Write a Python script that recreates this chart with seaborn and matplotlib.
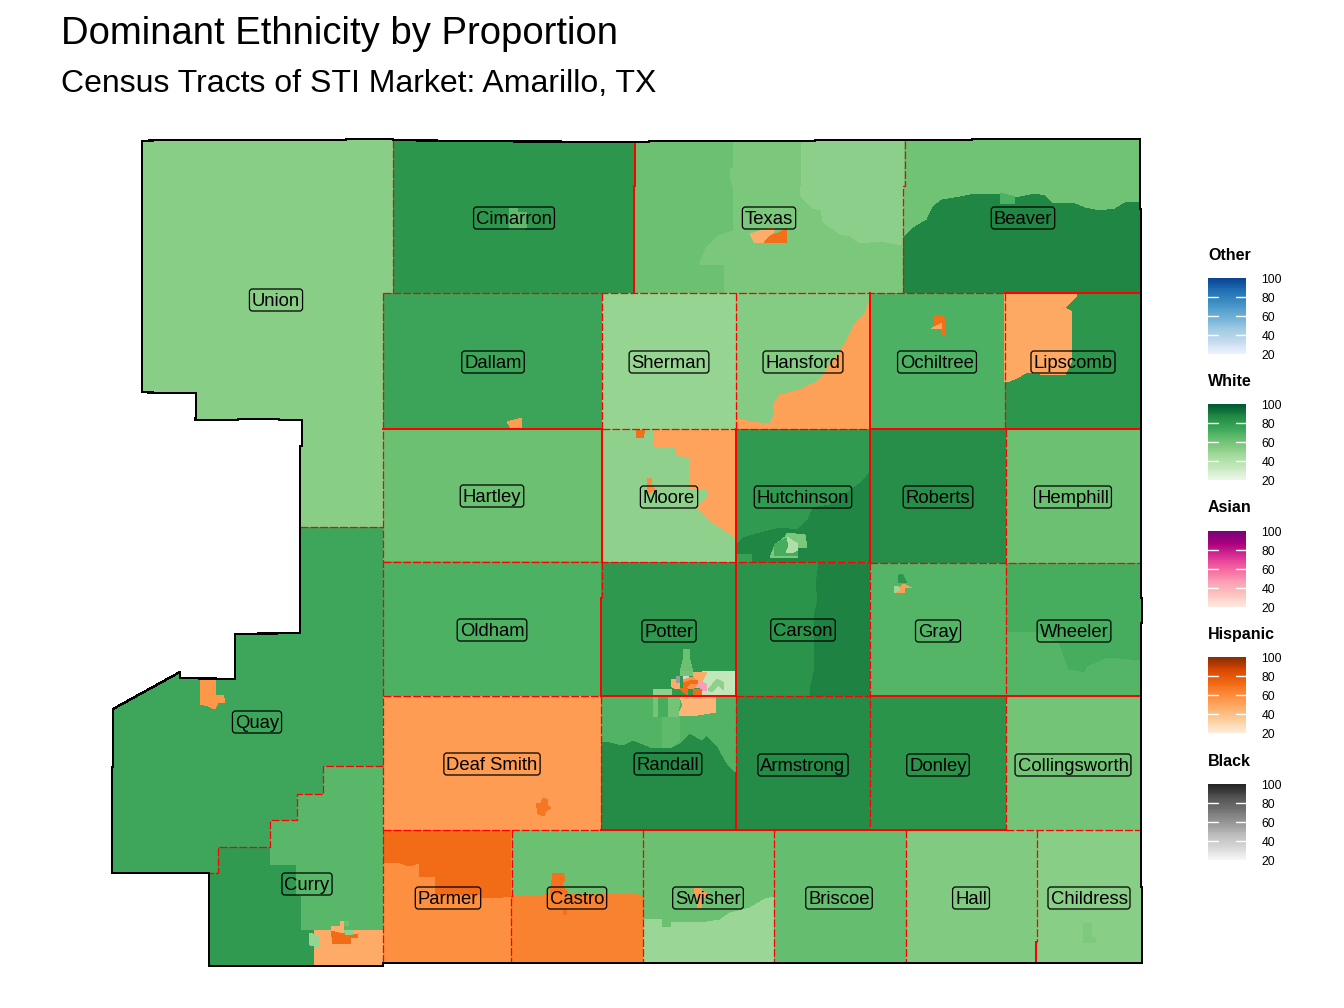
import numpy as np
import matplotlib
matplotlib.use('Agg')
import matplotlib.pyplot as plt
from matplotlib.patches import FancyBboxPatch
import seaborn as sns

# --- Scales ---
legend_order = ['Other', 'White', 'Asian', 'Hispanic', 'Black']
legend_ticks = [100, 80, 60, 40, 20]
scale_colors = {
    'Other': ['#EFF3FF', '#C6DBEF', '#9ECAE1', '#6BAED6', '#4292C6', '#2171B5', '#084594'],
    'White': ['#EDF8E9', '#C7E9C0', '#A1D99B', '#74C476', '#41AB5D', '#238B45', '#005A32'],
    'Asian': ['#FEEBE2', '#FCC5C0', '#FA9FB5', '#F768A1', '#DD3497', '#AE017E', '#7A0177'],
    'Hispanic': ['#FEEDDE', '#FDD0A2', '#FDAE6B', '#FD8D3C', '#F16913', '#D94801', '#8C2D04'],
    'Black': ['#F7F7F7', '#D9D9D9', '#BDBDBD', '#969696', '#737373', '#525252', '#252525'],
}

# --- Labels ---
county_names = ['Cimarron', 'Texas', 'Beaver', 'Union', 'Dallam', 'Sherman', 'Hansford', 'Ochiltree',
                'Lipscomb', 'Hartley', 'Moore', 'Hutchinson', 'Roberts', 'Hemphill', 'Oldham', 'Potter',
                'Carson', 'Gray', 'Wheeler', 'Quay', 'Deaf Smith', 'Randall', 'Armstrong', 'Donley',
                'Collingsworth', 'Curry', 'Parmer', 'Castro', 'Swisher', 'Briscoe', 'Hall', 'Childress']
county_x = [514, 769, 1023, 276, 493, 669, 803, 937, 1073, 492, 669, 803, 938, 1073, 492, 669,
            803, 938, 1074, 257, 492, 668, 803, 938, 1073, 307, 448, 577, 708, 839, 971, 1089]
county_y = [218, 218, 218, 300, 362, 362, 362, 362, 362, 496, 497, 497, 497, 497, 630, 631,
            630, 631, 631, 722, 764, 764, 765, 765, 765, 884, 898, 898, 898, 898, 898, 898]

# --- Tracts: one ethnicity, one percent, one outline each, painted in this order ---
tract_ethnicity = [
    'White',                                      # Union
    'White', 'Hispanic',                          # Quay
    'White', 'White', 'Hispanic', 'White', 'Hispanic', 'Hispanic', 'White', 'White',  # Curry
    'White', 'White',                             # Cimarron
    'White', 'White', 'White', 'Hispanic', 'Hispanic',  # Texas
    'White', 'White', 'White',                    # Beaver
    'White', 'Hispanic',                          # Dallam
    'White',                                      # Sherman
    'White', 'Hispanic',                          # Hansford
    'White', 'Hispanic', 'Hispanic',              # Ochiltree
    'White', 'Hispanic',                          # Lipscomb
    'White',                                      # Hartley
    'White', 'Hispanic', 'Hispanic', 'Hispanic',  # Moore
    'White', 'White', 'White', 'White', 'White', 'White',  # Hutchinson
    'White', 'White',                             # Roberts, Hemphill
    'White', 'White',                             # Oldham, Potter
    'White', 'White',                             # Carson
    'White', 'White', 'Hispanic', 'White',        # Gray
    'White', 'White',                             # Wheeler
    'Hispanic', 'Hispanic',                       # Deaf Smith
    'White', 'White', 'Hispanic', 'White', 'White', 'White', 'White', 'White',  # Randall
    'White', 'White', 'White',                    # Armstrong, Donley, Collingsworth
    'White', 'White',                             # Potter south-east
    'White', 'White', 'Hispanic', 'Hispanic', 'Asian', 'Black', 'Black',  # Amarillo core
    'Hispanic', 'Hispanic', 'Hispanic', 'Hispanic',
    'Hispanic', 'Hispanic',                       # Parmer
    'White', 'Hispanic', 'Hispanic', 'Hispanic',  # Castro
    'White', 'White', 'Hispanic',                 # Swisher
    'White', 'White',                             # Briscoe, Hall
    'White', 'White',                             # Childress
]
tract_percent = [
    54,
    75, 56,
    67, 80, 48, 50, 72, 46, 62, 52,
    82, 65,
    58, 62, 53, 47, 71,
    61, 88, 70,
    76, 54,
    50,
    55, 52,
    70, 71, 50,
    82, 49,
    62,
    52, 51, 71, 60,
    80, 88, 78, 58, 72, 42,
    85, 62,
    70, 81,
    83, 89,
    68, 82, 53, 48,
    72, 68,
    54, 68,
    86, 69, 44, 52, 60, 72, 60, 65,
    86, 83, 60,
    35, 52,
    62, 60, 48, 47, 47, 58, 35,
    58, 72, 72, 72,
    59, 72,
    62, 64, 70, 70,
    62, 49, 53,
    64, 56,
    54, 57,
]
tract_shapes = [
    # Union
    [(142, 141), (160, 140), (346, 140), (346, 139), (393, 139), (393, 293), (383, 293), (383, 527), (300, 527),
     (300, 446), (302, 446), (302, 420), (279, 420), (279, 419), (238, 419), (238, 420), (195, 420), (196, 416),
     (196, 393), (159, 393), (142, 392)],
    # Quay
    [(300, 527), (383, 527), (383, 766), (323, 766), (323, 794), (297, 794), (297, 820), (270, 820), (270, 847),
     (218, 847), (218, 873), (112, 873), (112, 767), (113, 767), (113, 709), (180, 672), (180, 678), (235, 679),
     (235, 634), (300, 633)],
    [(201, 679), (215, 679), (216, 695), (223, 695), (225, 702), (218, 703), (215, 709), (208, 706), (200, 704)],
    # Curry
    [(209, 873), (218, 873), (218, 847), (270, 847), (270, 820), (297, 820), (297, 794), (323, 794), (323, 766),
     (383, 766), (383, 966), (209, 966)],
    [(209, 873), (218, 873), (218, 847), (270, 847), (270, 865), (296, 865), (296, 895), (301, 897), (301, 930),
     (314, 930), (314, 966), (209, 966)],
    [(314, 930), (383, 930), (383, 966), (314, 966)],
    [(309, 933), (319, 936), (318, 947), (310, 945)],
    [(331, 930), (342, 933), (358, 935), (358, 937), (351, 938), (351, 944), (333, 944)],
    [(331, 926), (340, 926), (340, 921), (344, 921), (344, 933), (331, 930)],
    [(344, 921), (349, 921), (349, 926), (344, 926)],
    [(344, 930), (353, 930), (353, 935), (346, 935)],
    # Cimarron
    [(393, 140), (461, 141), (635, 142), (634, 293), (393, 293)],
    [(509, 208), (518, 208), (518, 212), (527, 212), (527, 227), (523, 230), (509, 230)],
    # Texas
    [(635, 142), (905, 141), (903, 293), (634, 293)],
    [(635, 142), (733, 142), (733, 168), (730, 168), (730, 180), (733, 192), (733, 230), (718, 235), (705, 247),
     (698, 265), (724, 265), (724, 293), (634, 293)],
    [(801, 142), (801, 186), (800, 195), (812, 208), (821, 210), (823, 222), (840, 234), (850, 236), (860, 243),
     (880, 241), (903, 245), (905, 186), (905, 141)],
    [(750, 234), (762, 230), (775, 228), (768, 243), (755, 243)],
    [(787, 229), (787, 243), (764, 243), (770, 236), (778, 233)],
    # Beaver
    [(905, 141), (972, 140), (1140, 139), (1141, 293), (903, 293)],
    [(903, 238), (915, 227), (927, 220), (933, 207), (942, 200), (960, 197), (975, 194), (1000, 194), (1015, 198),
     (1035, 194), (1045, 196), (1052, 203), (1072, 203), (1085, 208), (1100, 211), (1115, 209), (1125, 203),
     (1140, 202), (1141, 293), (903, 293)],
    [(1000, 193), (1015, 197), (1015, 204), (1000, 204)],
    # Dallam
    [(383, 293), (602, 293), (602, 429), (383, 429)],
    [(507, 422), (522, 418), (522, 429), (512, 429)],
    # Sherman
    [(602, 293), (736, 293), (736, 429), (602, 429)],
    # Hansford
    [(736, 293), (870, 293), (870, 429), (736, 429)],
    [(736, 418), (750, 422), (770, 424), (775, 413), (773, 405), (780, 395), (800, 390), (815, 383), (823, 375),
     (840, 352), (847, 340), (853, 327), (865, 313), (870, 300), (870, 429), (736, 429)],
    # Ochiltree
    [(870, 293), (1005, 293), (1005, 429), (870, 429)],
    [(934, 315), (941, 315), (945, 318), (945, 335), (941, 335), (941, 323), (934, 325)],
    [(931, 329), (942, 323), (942, 329)],
    # Lipscomb
    [(1005, 293), (1141, 293), (1141, 429), (1005, 429)],
    [(1004, 293), (1077, 295), (1065, 308), (1072, 312), (1072, 360), (1065, 375), (1047, 375), (1027, 372),
     (1017, 378), (1007, 382), (1005, 382)],
    # Hartley
    [(383, 429), (602, 429), (602, 562), (383, 562)],
    # Moore
    [(602, 429), (736, 429), (736, 562), (602, 562)],
    [(653, 430), (736, 430), (736, 538), (728, 532), (717, 525), (707, 518), (698, 508), (707, 497), (707, 490),
     (690, 488), (689, 457), (676, 455), (676, 447), (653, 447)],
    [(636, 430), (645, 430), (643, 438), (636, 438)],
    [(647, 478), (652, 478), (652, 485), (655, 490), (648, 493)],
    # Hutchinson
    [(736, 429), (870, 429), (870, 562), (736, 562)],
    [(870, 472), (862, 482), (830, 505), (813, 508), (808, 520), (797, 530), (780, 528), (760, 533), (743, 538),
     (737, 545), (737, 554), (752, 554), (752, 562), (870, 562)],
    [(737, 554), (752, 554), (752, 562), (737, 562)],
    [(787, 533), (805, 535), (807, 547), (798, 548), (798, 557), (770, 558), (775, 545), (785, 537)],
    [(774, 545), (786, 538), (798, 545), (798, 555), (775, 556)],
    [(787, 537), (793, 541), (798, 544), (798, 550), (792, 553), (786, 553), (789, 546)],
    # Roberts, Hemphill
    [(870, 429), (1006, 429), (1006, 563), (870, 563)],
    [(1006, 429), (1141, 429), (1141, 563), (1006, 563)],
    # Oldham, Potter
    [(383, 562), (602, 561), (602, 598), (601, 598), (601, 696), (383, 696)],
    [(602, 562), (736, 562), (736, 696), (601, 696), (601, 598)],
    # Carson
    [(736, 562), (870, 563), (870, 696), (736, 696)],
    [(819, 563), (816, 585), (818, 598), (814, 618), (814, 672), (810, 690), (810, 697), (870, 697), (870, 563)],
    # Gray
    [(870, 563), (1006, 563), (1006, 696), (870, 696)],
    [(898, 583), (899, 575), (902, 574), (907, 583)],
    [(894, 593), (904, 584), (912, 588), (905, 588), (904, 593)],
    [(894, 586), (898, 586), (900, 590), (894, 593)],
    # Wheeler
    [(1006, 563), (1141, 563), (1141, 696), (1006, 696)],
    [(1007, 632), (1037, 633), (1058, 643), (1068, 670), (1085, 673), (1087, 667), (1108, 658), (1140, 661),
     (1141, 696), (1006, 696)],
    # Deaf Smith
    [(383, 696), (601, 696), (601, 830), (383, 830)],
    [(536, 803), (541, 803), (543, 798), (548, 800), (548, 806), (551, 808), (546, 811), (544, 816), (538, 814),
     (537, 808)],
    # Randall
    [(601, 696), (736, 696), (736, 830), (601, 830)],
    [(601, 696), (737, 696), (736, 773), (727, 763), (718, 747), (707, 735), (702, 740), (690, 733), (680, 743),
     (670, 748), (653, 748), (633, 740), (623, 745), (610, 742), (601, 742)],
    [(680, 697), (715, 697), (716, 712), (692, 716), (678, 716), (683, 705)],
    [(653, 689), (672, 689), (672, 697), (653, 697)],
    [(653, 697), (658, 697), (658, 717), (653, 717)],
    [(658, 697), (668, 697), (668, 717), (658, 717)],
    [(668, 697), (680, 697), (678, 717), (668, 717)],
    [(662, 717), (680, 717), (680, 740), (670, 748), (662, 748)],
    # Armstrong, Donley, Collingsworth
    [(736, 696), (870, 696), (870, 830), (736, 830)],
    [(870, 696), (1006, 696), (1006, 830), (870, 830)],
    [(1006, 696), (1141, 696), (1141, 830), (1006, 830)],
    # Potter south-east
    [(702, 671), (736, 671), (736, 697), (702, 697)],
    [(708, 690), (717, 679), (724, 683), (724, 690), (718, 685), (712, 692)],
    # Amarillo core
    [(684, 649), (690, 649), (690, 660), (693, 672), (680, 672), (683, 660)],
    [(680, 671), (693, 671), (693, 676), (680, 676)],
    [(693, 672), (707, 672), (702, 682), (693, 682)],
    [(671, 679), (680, 680), (680, 688), (676, 689), (672, 687)],
    [(693, 683), (702, 682), (707, 685), (707, 691), (702, 691), (700, 688), (693, 688)],
    [(676, 676), (680, 676), (680, 683), (676, 683)],
    [(683, 676), (689, 676), (689, 680), (683, 680)],
    [(683, 680), (693, 677), (698, 682), (693, 689), (683, 688)],
    [(683, 683), (693, 680), (698, 680), (698, 684), (690, 684), (686, 688), (683, 688)],
    [(680, 688), (688, 688), (688, 695), (683, 692)],
    [(693, 689), (702, 689), (702, 696), (693, 696)],
    # Parmer
    [(383, 830), (512, 830), (511, 963), (383, 963)],
    [(383, 830), (512, 830), (512, 896), (493, 898), (481, 898), (481, 895), (435, 895), (435, 877), (419, 876),
     (419, 863), (410, 866), (400, 863), (383, 862)],
    # Castro
    [(512, 830), (643, 830), (643, 963), (511, 963)],
    [(512, 896), (537, 897), (547, 894), (633, 894), (643, 896), (643, 963), (511, 963)],
    [(553, 873), (563, 873), (565, 879), (562, 885), (568, 893), (550, 894)],
    [(563, 908), (567, 908), (567, 915), (563, 915)],
    # Swisher
    [(643, 830), (774, 830), (774, 963), (643, 963)],
    [(643, 919), (662, 919), (662, 927), (671, 927), (671, 922), (700, 923), (707, 922), (720, 920), (730, 913),
     (750, 908), (765, 899), (774, 897), (774, 963), (643, 963)],
    [(694, 888), (702, 888), (702, 892), (707, 892), (707, 898), (702, 898), (702, 908), (697, 908), (697, 898),
     (694, 897)],
    # Briscoe, Hall
    [(774, 830), (906, 830), (906, 963), (774, 963)],
    [(906, 830), (1037, 830), (1037, 963), (906, 963)],
    # Childress
    [(1037, 830), (1141, 830), (1141, 887), (1142, 887), (1142, 963), (1037, 963)],
    [(1083, 923), (1092, 923), (1092, 937), (1096, 937), (1096, 943), (1084, 943)],
]

# --- Borders ---
outer_border = [(142, 141), (160, 140), (346, 140), (346, 139), (393, 139), (393, 140), (461, 141), (613, 142),
                (649, 142), (649, 141), (815, 141), (815, 140), (972, 140), (972, 139), (1140, 139), (1140, 209),
                (1141, 209), (1141, 598), (1142, 598), (1142, 623), (1141, 623), (1141, 887), (1142, 887),
                (1142, 963), (383, 963), (383, 966), (209, 966), (209, 873), (112, 873), (112, 767), (113, 767),
                (113, 709), (180, 672), (180, 678), (235, 679), (235, 634), (300, 633), (300, 446), (302, 446),
                (302, 420), (279, 420), (279, 419), (238, 419), (238, 420), (195, 420), (196, 416), (196, 393),
                (159, 393), (142, 392), (142, 141)]
solid_borders = [
    [(635, 142), (635, 186), (634, 186), (634, 293)],
    [(1005, 293), (1141, 293)],
    [(383, 429), (602, 429)],
    [(870, 429), (1141, 429)],
    [(602, 429), (602, 562)],
    [(736, 429), (736, 696)],
    [(601, 598), (601, 696)],
    [(870, 293), (870, 562)],
    [(601, 696), (736, 696)],
    [(870, 696), (1141, 696)],
    [(601, 830), (1006, 830)],
    [(736, 773), (736, 830)],
    [(1036, 942), (1036, 963)],
]
dashed_borders = [
    [(393, 140), (393, 293)],
    [(383, 293), (1005, 293)],
    [(383, 293), (383, 963)],
    [(300, 527), (383, 527)],
    [(905, 141), (905, 186), (903, 186), (903, 293)],
    [(602, 293), (602, 429)],
    [(736, 293), (736, 429)],
    [(1005, 293), (1005, 429)],
    [(602, 429), (870, 429)],
    [(383, 562), (870, 562)],
    [(870, 563), (1141, 563)],
    [(1006, 429), (1006, 830)],
    [(602, 562), (602, 598)],
    [(870, 562), (870, 830)],
    [(383, 696), (601, 696)],
    [(736, 696), (870, 696)],
    [(601, 696), (601, 830)],
    [(736, 696), (736, 773)],
    [(383, 830), (601, 830)],
    [(1006, 830), (1141, 830)],
    [(512, 830), (512, 896), (511, 896), (511, 963)],
    [(643, 830), (643, 963)],
    [(774, 830), (774, 963)],
    [(906, 830), (906, 963)],
    [(1037, 830), (1037, 942)],
    [(383, 766), (323, 766), (323, 794), (297, 794), (297, 820), (270, 820), (270, 847), (218, 847), (218, 873),
     (209, 873)],
]

assert len(tract_ethnicity) == len(tract_percent) == len(tract_shapes)

# --- Plot ---
sns.set_theme(style='white')
plt.rcParams['font.family'] = ['Liberation Sans', 'DejaVu Sans']

scale_maps = {k: sns.blend_palette(v, as_cmap=True) for k, v in scale_colors.items()}


def pick_color(kind, pct):
    return scale_maps[kind]((pct - 20) / 80)


fig = plt.figure(figsize=(13.44, 10.08), dpi=100)
ax = fig.add_axes([0, 0, 1, 1])
ax.set_xlim(0, 1344)
ax.set_ylim(1008, 0)
ax.axis('off')

for kind, pct, shape in zip(tract_ethnicity, tract_percent, tract_shapes):
    xs, ys = zip(*shape)
    ax.fill(xs, ys, color=pick_color(kind, pct), lw=0, antialiased=False, zorder=1)

for line in solid_borders:
    xs, ys = zip(*line)
    ax.plot(xs, ys, color='red', lw=1.1, antialiased=False, zorder=2)
for line in dashed_borders:
    xs, ys = zip(*line)
    ax.plot(xs, ys, color='red', lw=0.9, ls=(0, (6.3, 1.6)), antialiased=True, zorder=2)
xs, ys = zip(*outer_border)
ax.plot(xs, ys, color='black', lw=0.95, antialiased=False, zorder=3)

# county labels: fixed height boxes like geom_label
renderer = fig.canvas.get_renderer()
for name, x, y in zip(county_names, county_x, county_y):
    txt = ax.text(x, y + 6, name, fontsize=13.3, color='black', ha='center', va='baseline', zorder=5)
    w = txt.get_window_extent(renderer).width
    box = FancyBboxPatch((x - w / 2 - 2.5, y - 11), w + 5, 22, boxstyle='round,pad=0,rounding_size=3',
                         fc='none', ec='black', lw=0.9, zorder=4)
    ax.add_patch(box)

ax.text(61, 44, 'Dominant Ethnicity by Proportion', fontsize=27.5, color='black', va='baseline')
ax.text(61, 92, 'Census Tracts of STI Market: Amarillo, TX', fontsize=23.0, color='black', va='baseline')

# colour legends
legend_tops = [278, 404, 531, 657, 784]
grad = np.arange(100, 20, -1).reshape(-1, 1)
for kind, top in zip(legend_order, legend_tops):
    cax = fig.add_axes([1208 / 1344, 1 - (top + 76) / 1008, 38 / 1344, 76 / 1008])
    sns.heatmap(grad, cmap=scale_maps[kind], vmin=20, vmax=100, cbar=False, ax=cax,
                xticklabels=False, yticklabels=False)
    for t in legend_ticks:
        row = 100 - t
        if 0 < row < 80:
            cax.plot([0, 0.26], [row, row], color='white', lw=1)
            cax.plot([0.74, 1], [row, row], color='white', lw=1)
        ax.text(1261.5, top + row * 0.95 + 2, str(t), fontsize=8.8, color='black', va='center', zorder=5)
    ax.text(1208, top - 23, kind, fontsize=11.5, fontweight='bold', color='black', va='center', zorder=5)

fig.savefig('out.png', dpi=100)
